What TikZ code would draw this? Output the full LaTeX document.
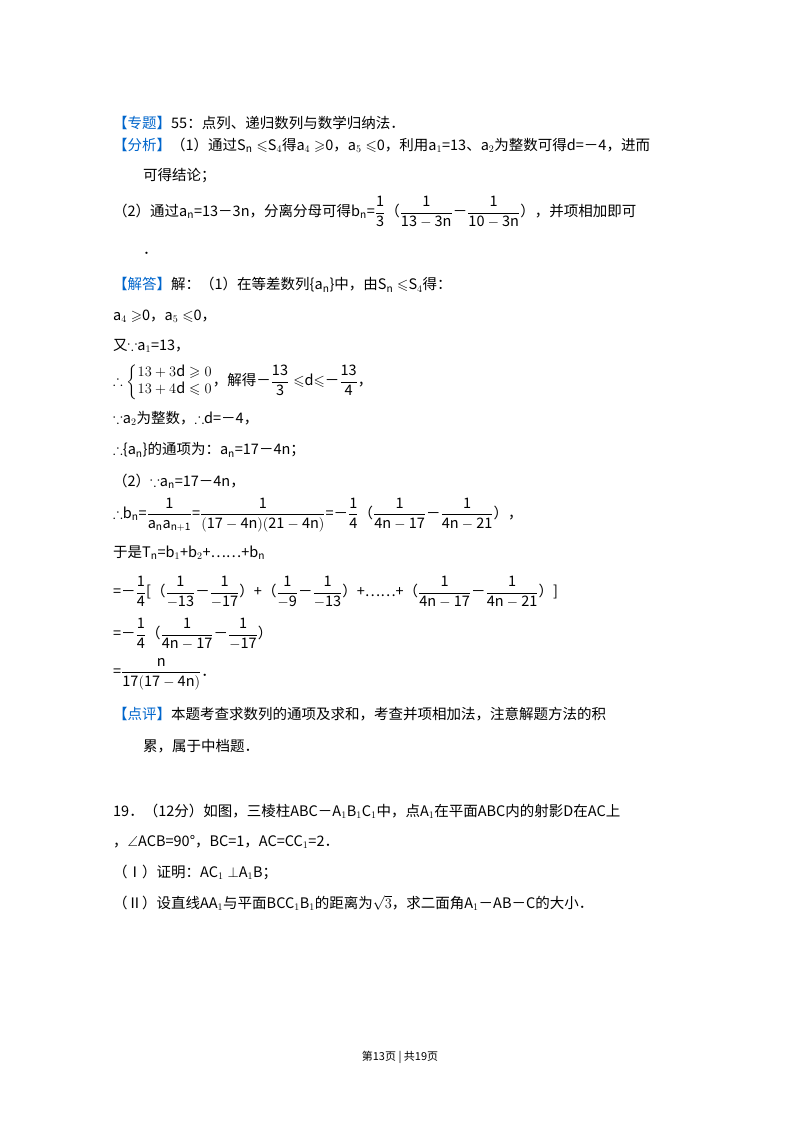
\documentclass[tikz,border=0pt]{standalone}
\usepackage{fontspec}
\usepackage{amsmath,amssymb}
\setmainfont{Noto Sans CJK SC}
\definecolor{lab}{RGB}{0,102,204}
\newcommand{\fr}[2]{\dfrac{\mathrm{#1}}{\mathrm{#2}}}
\begin{document}
\begin{tikzpicture}[x=1pt,y=-1pt,
  ln/.style={anchor=west,inner sep=0pt,font=\fontsize{14.5}{17}\selectfont},
  ft/.style={anchor=center,inner sep=0pt,font=\fontsize{11}{13}\selectfont}]
\useasboundingbox[fill=white] (0,0) rectangle (800,1133);
\node[ln] (l1) at (113,123) {\textcolor{lab}{【专题】}55：点列、递归数列与数学归纳法．};
\node[ln] (l2) at (113,145) {\textcolor{lab}{【分析】}（1）通过S$_{\mathrm n}\leqslant$S$_4$得a$_4\geqslant$0，a$_5\leqslant$0，利用a$_1$=13、a$_2$为整数可得d=－4，进而};
\node[ln] (l3) at (143,176) {可得结论；};
\node[ln] (l4) at (113,212) {（2）通过a$_{\mathrm n}$=13－3n，分离分母可得b$_{\mathrm n}$=$\fr{1}{3}$（$\fr{1}{13-3n}$－$\fr{1}{10-3n}$），并项相加即可};
\node[ln] (l5) at (143,253) {．};
\node[ln] (l6) at (113,285) {\textcolor{lab}{【解答】}解：（1）在等差数列\{a$_{\mathrm n}$\}中，由S$_{\mathrm n}\leqslant$S$_4$得：};
\node[ln] (l7) at (113,316) {a$_4\geqslant$0，a$_5\leqslant$0，};
\node[ln] (l8) at (113,346) {又$\because$a$_1$=13，};
\node[ln] (l9) at (113,382) {$\therefore\left\{\begin{array}{@{}l@{}}13+3\mathrm{d}\geqslant 0\\13+4\mathrm{d}\leqslant 0\end{array}\right.$，解得－$\fr{13}{3}\leqslant$d$\leqslant$－$\fr{13}{4}$，};
\node[ln] (l10) at (113,418) {$\because$a$_2$为整数，$\therefore$d=－4，};
\node[ln] (l11) at (113,450) {$\therefore$\{a$_{\mathrm n}$\}的通项为：a$_{\mathrm n}$=17－4n；};
\node[ln] (l12) at (113,481) {（2）$\because$a$_{\mathrm n}$=17－4n，};
\node[ln] (l13) at (113,515) {$\therefore$b$_{\mathrm n}$=$\fr{1}{a_n a_{n+1}}$=$\fr{1}{(17-4n)(21-4n)}$=－$\fr{1}{4}$（$\fr{1}{4n-17}$－$\fr{1}{4n-21}$），};
\node[ln] (l14) at (113,553) {于是T$_{\mathrm n}$=b$_1$+b$_2$+……+b$_{\mathrm n}$};
\node[ln] (l15) at (113,592) {=－$\fr{1}{4}$[（$\fr{1}{-13}$－$\fr{1}{-17}$）+（$\fr{1}{-9}$－$\fr{1}{-13}$）+……+（$\fr{1}{4n-17}$－$\fr{1}{4n-21}$）]};
\node[ln] (l16) at (113,634) {=－$\fr{1}{4}$（$\fr{1}{4n-17}$－$\fr{1}{-17}$）};
\node[ln] (l17) at (113,674) {=$\fr{n}{17(17-4n)}$．};
\node[ln] (l18) at (113,714) {\textcolor{lab}{【点评】}本题考查求数列的通项及求和，考查并项相加法，注意解题方法的积};
\node[ln] (l19) at (143,746) {累，属于中档题．};
\node[ln] (l20) at (113,811) {19．（12分）如图，三棱柱ABC－A$_1$B$_1$C$_1$中，点A$_1$在平面ABC内的射影D在AC上};
\node[ln] (l21) at (113,842) {，$\angle$ACB=90°，BC=1，AC=CC$_1$=2．};
\node[ln] (l22) at (113,872) {（Ⅰ）证明：AC$_1\perp$A$_1$B；};
\node[ln] (l23) at (113,903) {（Ⅱ）设直线AA$_1$与平面BCC$_1$B$_1$的距离为$\sqrt{3}$，求二面角A$_1$－AB－C的大小．};
\node[ft] (foot) at (400,1057) {第13页 | 共19页};
\end{tikzpicture}
\end{document}
